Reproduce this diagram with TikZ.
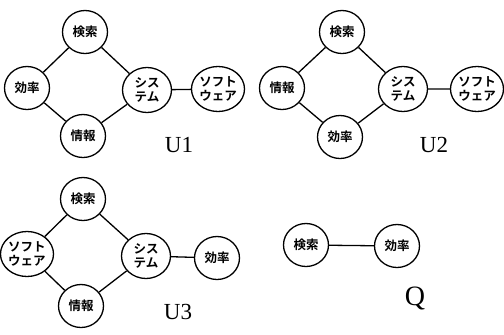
\documentclass[tikz,border=0pt]{standalone}
\usepackage{fontspec}
\setmainfont{Liberation Serif}
\newfontfamily\jp{Noto Sans CJK JP Bold}
\usetikzlibrary{shapes.geometric}
\begin{document}
\begin{tikzpicture}[x=1pt,y=-1pt,
  term/.style={ellipse,draw,line width=1.3pt,minimum width=45pt,minimum height=43pt,inner sep=0pt,
    font=\jp\fontsize{12.5}{13.5}\selectfont,align=center},
  wide/.style={term,minimum width=49pt,minimum height=45pt},
  link/.style={line width=1.3pt},
  lbl/.style={font=\fontsize{23}{24}\selectfont}]
\useasboundingbox (0,0) rectangle (504,335);
% U1
\node[term] (a1) at (85,32) {検索};
\node[term] (b1) at (27,88) {効率};
\node[term] (c1) at (83,136) {情報};
\node[wide] (d1) at (147,90) {シス\\テム};
\node[wide] (e1) at (218,89) {ソフト\\ウェア};
\node[lbl] (u1) at (179,145) {U1};
\draw[link] (a1) -- (b1) (b1) -- (c1) (c1) -- (d1) (a1) -- (d1) (d1) -- (e1);
% U2
\node[term] (a2) at (342,32) {検索};
\node[term] (b2) at (282,88) {情報};
\node[term] (c2) at (340,137) {効率};
\node[wide] (d2) at (403,89) {シス\\テム};
\node[wide] (e2) at (477,89) {ソフト\\ウェア};
\node[lbl] (u2) at (434,145) {U2};
\draw[link] (a2) -- (b2) (b2) -- (c2) (c2) -- (d2) (a2) -- (d2) (d2) -- (e2);
% U3
\node[term] (a3) at (83,199) {検索};
\node[wide] (b3) at (27,254) {ソフト\\ウェア};
\node[term] (c3) at (81,306) {情報};
\node[wide] (d3) at (146,256) {シス\\テム};
\node[term] (e3) at (217,258) {効率};
\node[lbl] (u3) at (178,312) {U3};
\draw[link] (a3) -- (b3) (b3) -- (c3) (c3) -- (d3) (a3) -- (d3) (d3) -- (e3);
% Q
\node[term] (a4) at (306,245) {検索};
\node[term] (b4) at (397,246) {効率};
\node[font=\fontsize{28}{30}\selectfont] (q) at (415,298) {Q};
\draw[link] (a4) -- (b4);
\end{tikzpicture}
\end{document}
